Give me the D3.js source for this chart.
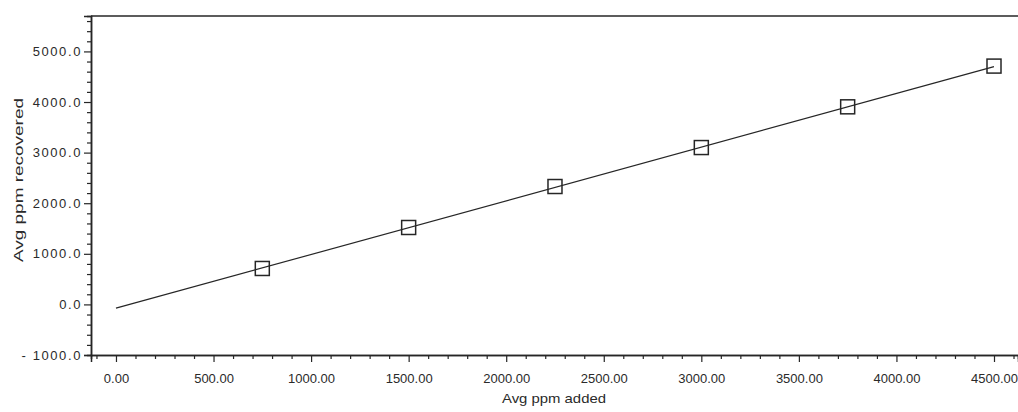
<!DOCTYPE html>
<html>
<head>
<meta charset="utf-8">
<script src="https://cdn.jsdelivr.net/npm/d3@7"></script>
<style>
  html, body { margin: 0; padding: 0; background: #fff; }
  svg { display: block; }
  text { font-family: "Liberation Sans", Arial, sans-serif; fill: #2a2a2a; }
</style>
</head>
<body>
<svg id="chart" width="1018" height="412"></svg>
<script>
// Recovery data: average ppm added vs average ppm recovered
const ppmAdded = [750, 1500, 2250, 3000, 3750, 4500];
const ppmRecovered = [710, 1520, 2330, 3100, 3905, 4710];

// Fitted line endpoints
const fitX = [0, 4500];
const fitY = [-75, 4700];

const xTickValues = [0, 500, 1000, 1500, 2000, 2500, 3000, 3500, 4000, 4500];
const yTickValues = [-1000, 0, 1000, 2000, 3000, 4000, 5000];

const xLabel = "Avg ppm added";
const yLabel = "Avg ppm recovered";

const svg = d3.select("#chart");
const plotLeft = 91, plotTop = 16, plotBottom = 355, plotRight = 1018;

const x = d3.scaleLinear().domain([-128, 4623]).range([plotLeft, plotRight]);
const y = d3.scaleLinear().domain([-1000, 5700]).range([plotBottom, plotTop]);

const ink = "#262626";

// Top frame line
svg.append("line")
  .attr("x1", plotLeft).attr("x2", plotRight)
  .attr("y1", plotTop).attr("y2", plotTop)
  .attr("stroke", ink).attr("stroke-width", 1.3);

// X axis: minor ticks every 100, labelled majors every 500
const xMinor = d3.range(-100, 4601, 100).filter(v => v % 500 !== 0);
const xAxisMinor = d3.axisBottom(x).tickValues(xMinor).tickSize(4).tickFormat("");
const xAxisMajor = d3.axisBottom(x).tickValues(xTickValues).tickSize(7)
  .tickFormat(d3.format(".2f")).tickPadding(12);

const gxMinor = svg.append("g").attr("transform", `translate(0,${plotBottom})`).call(xAxisMinor);
const gx = svg.append("g").attr("transform", `translate(0,${plotBottom})`).call(xAxisMajor);
[gxMinor, gx].forEach(g => {
  g.select(".domain").attr("stroke", ink).attr("stroke-width", 1.5);
  g.selectAll(".tick line").attr("stroke", ink).attr("stroke-width", 1.2);
});
gx.selectAll(".tick text").attr("font-size", 13).attr("fill", "#2a2a2a")
  .attr("font-family", "Liberation Sans, Arial, sans-serif");

// Y axis: minor ticks every 200, labelled majors every 1000
const yMinor = d3.range(-800, 5700, 200).filter(v => v % 1000 !== 0);
const yAxisMinor = d3.axisLeft(y).tickValues(yMinor).tickSize(4).tickFormat("");
const yAxisMajor = d3.axisLeft(y).tickValues(yTickValues).tickSize(7)
  .tickFormat(d => d3.format(".1f")(d)).tickPadding(2);

const gyMinor = svg.append("g").attr("transform", `translate(${plotLeft},0)`).call(yAxisMinor);
const gy = svg.append("g").attr("transform", `translate(${plotLeft},0)`).call(yAxisMajor);
[gyMinor, gy].forEach(g => {
  g.select(".domain").attr("stroke", ink).attr("stroke-width", 1.5);
  g.selectAll(".tick line").attr("stroke", ink).attr("stroke-width", 1.2);
});
gy.selectAll(".tick text").attr("font-size", 13).attr("fill", "#2a2a2a")
  .attr("font-family", "Liberation Sans, Arial, sans-serif")
  .attr("letter-spacing", "1.6px")
  .text(d => d < 0 ? "- " + d3.format(".1f")(-d) : d3.format(".1f")(d));

// Fitted line
svg.append("line")
  .attr("x1", x(fitX[0])).attr("y1", y(fitY[0]))
  .attr("x2", x(fitX[1])).attr("y2", y(fitY[1]))
  .attr("stroke", ink).attr("stroke-width", 1.2);

// Data markers: open squares
const s = 14;
svg.append("g").selectAll("rect")
  .data(ppmAdded.map((v, i) => [v, ppmRecovered[i]]))
  .join("rect")
  .attr("x", d => x(d[0]) - s / 2)
  .attr("y", d => y(d[1]) - s / 2)
  .attr("width", s).attr("height", s)
  .attr("fill", "none")
  .attr("stroke", ink).attr("stroke-width", 1.5);

// Axis titles (the plotting package draws these with wide glyph spacing)
svg.append("text")
  .attr("x", 554).attr("y", 403)
  .attr("text-anchor", "middle")
  .attr("font-size", 13)
  .attr("textLength", 104)
  .attr("lengthAdjust", "spacingAndGlyphs")
  .text(xLabel);

svg.append("text")
  .attr("transform", "translate(23,180) rotate(-90)")
  .attr("text-anchor", "middle")
  .attr("font-size", 13)
  .attr("textLength", 164)
  .attr("lengthAdjust", "spacingAndGlyphs")
  .text(yLabel);
</script>
</body>
</html>
